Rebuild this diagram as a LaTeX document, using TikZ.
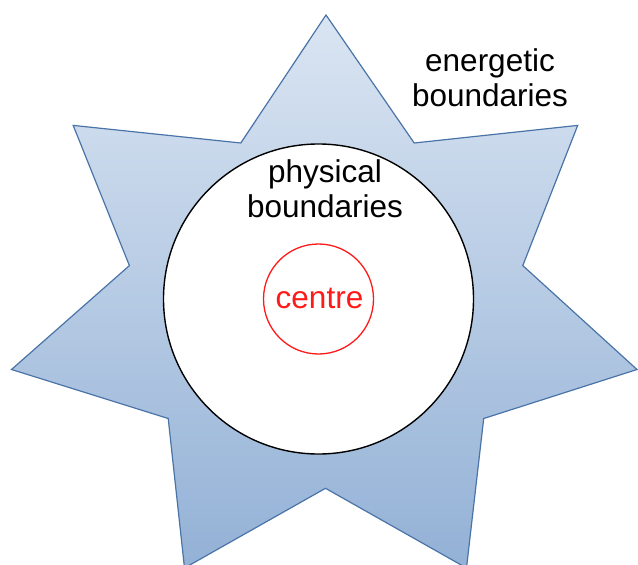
\documentclass[tikz,border=0pt]{standalone}
\usepackage{fontspec}
\setmainfont{Liberation Sans}
\definecolor{startop}{HTML}{DAE5F2}
\definecolor{starbot}{HTML}{93B1D6}
\definecolor{starline}{HTML}{4A74A8}
\definecolor{centrered}{HTML}{FF1A1A}
\tikzset{
  labeltext/.style={inner sep=0pt, align=center, font=\fontsize{31.5}{34.5}\selectfont, text=black},
  starshape/.style={draw=starline, line width=1.2pt, top color=startop, bottom color=starbot, line join=miter},
  physring/.style={draw=black, line width=1.4pt, fill=white},
  centrering/.style={draw=centrered, line width=1.3pt, circle, minimum size=110pt, inner sep=0pt}
}
\begin{document}
\begin{tikzpicture}[x=1pt,y=-1pt]
\useasboundingbox (0,0) rectangle (638,565);
\begin{scope}
\clip (0,0) rectangle (638,565);
\draw[starshape] (326,15) -- (414.2,143) -- (577.7,125.4) -- (522.8,265.6) -- (637,369.5)
  -- (483.7,418.5) -- (466.5,568) -- (325.5,488.3) -- (184.5,568) -- (168.2,418.5)
  -- (11.5,369.5) -- (129.4,265.6) -- (73.2,125.4) -- (240.8,143) -- cycle;
\end{scope}
\node[physring, circle, minimum size=310pt, inner sep=0pt] (phys) at (318.5,299) {};
\node[centrering] (centre) at (318.5,299) {};
\node[inner sep=0pt, anchor=base, font=\fontsize{31.5}{34.5}\selectfont, text=centrered] (centretext) at (319.5,308.3) {centre};
\node[labeltext] (physlabel) at (325,188.5) {physical\\boundaries};
\node[labeltext] (energlabel) at (490,77.5) {energetic\\boundaries};
\end{tikzpicture}
\end{document}
